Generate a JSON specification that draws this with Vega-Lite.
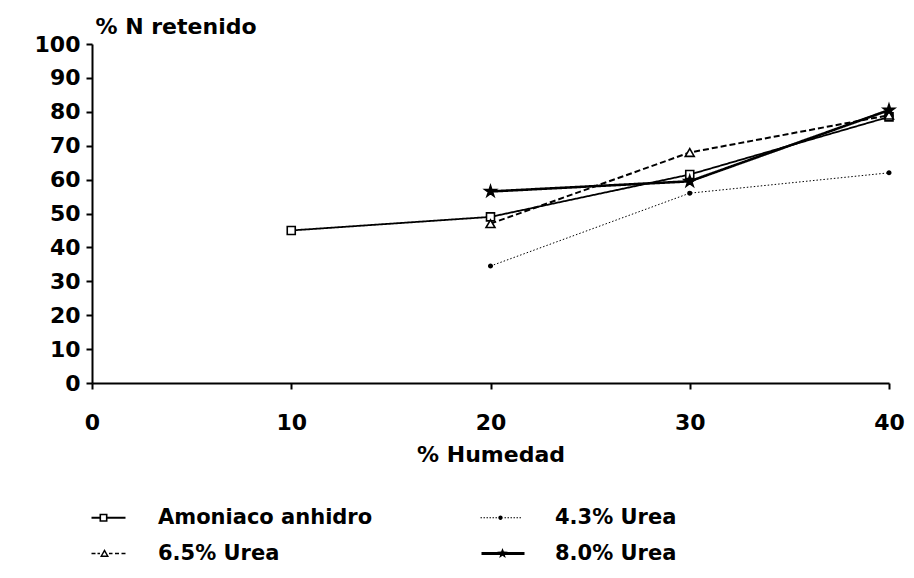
{
  "$schema": "https://vega.github.io/schema/vega-lite/v6.json",
  "width": 797,
  "height": 339,
  "autosize": {"type": "none"},
  "padding": {"left": 92, "top": 44, "right": 25, "bottom": 195},
  "background": "white",
  "config": {"view": {"stroke": null}, "font": "DejaVu Sans"},
  "data": {
    "values": [
      {"humedad": 10, "n": 45, "serie": "Amoniaco anhidro"},
      {"humedad": 20, "n": 49, "serie": "Amoniaco anhidro"},
      {"humedad": 30, "n": 61.5, "serie": "Amoniaco anhidro"},
      {"humedad": 40, "n": 78.5, "serie": "Amoniaco anhidro"},
      {"humedad": 20, "n": 34.5, "serie": "4.3% Urea"},
      {"humedad": 30, "n": 56, "serie": "4.3% Urea"},
      {"humedad": 40, "n": 62, "serie": "4.3% Urea"},
      {"humedad": 20, "n": 47, "serie": "6.5% Urea"},
      {"humedad": 30, "n": 68, "serie": "6.5% Urea"},
      {"humedad": 40, "n": 79, "serie": "6.5% Urea"},
      {"humedad": 20, "n": 56.5, "serie": "8.0% Urea"},
      {"humedad": 30, "n": 59.5, "serie": "8.0% Urea"},
      {"humedad": 40, "n": 80.5, "serie": "8.0% Urea"}
    ]
  },
  "encoding": {
    "x": {
      "field": "humedad", "type": "quantitative",
      "scale": {"domain": [0, 40], "nice": false, "zero": false},
      "axis": {
        "values": [0, 10, 20, 30, 40], "grid": false, "labelFlush": false,
        "title": "% Humedad", "titleFont": "DejaVu Sans", "titleFontSize": 22, "titleFontWeight": "bold", "titleColor": "black",
        "titleY": 78, "titleBaseline": "alphabetic",
        "labelFont": "DejaVu Sans", "labelFontSize": 22, "labelFontWeight": "bold", "labelColor": "black",
        "labelPadding": 23, "tickSize": 6, "tickWidth": 2, "tickColor": "black",
        "domainColor": "black", "domainWidth": 2
      }
    },
    "y": {
      "field": "n", "type": "quantitative",
      "scale": {"domain": [0, 100], "nice": false},
      "axis": {
        "values": [0, 10, 20, 30, 40, 50, 60, 70, 80, 90, 100], "grid": false, "labelFlush": false,
        "title": "% N retenido", "titleFont": "DejaVu Sans", "titleFontSize": 22, "titleFontWeight": "bold", "titleColor": "black",
        "titleAngle": 0, "titleX": 3, "titleY": -11, "titleAlign": "left", "titleBaseline": "alphabetic",
        "labelFont": "DejaVu Sans", "labelFontSize": 22, "labelFontWeight": "bold", "labelColor": "black",
        "labelPadding": 6, "tickSize": 6, "tickWidth": 2, "tickColor": "black",
        "domainColor": "black", "domainWidth": 2
      }
    }
  },
  "layer": [
    {
      "mark": {"type": "line", "color": "black"},
      "encoding": {
        "detail": {"field": "serie", "type": "nominal"},
        "strokeDash": {
          "field": "serie", "type": "nominal", "legend": null,
          "scale": {"type": "ordinal", "domain": ["Amoniaco anhidro", "4.3% Urea", "6.5% Urea", "8.0% Urea"], "range": [[1, 0], [1.5, 2], [6, 3], [1, 0]]}
        },
        "strokeWidth": {
          "field": "serie", "type": "nominal", "legend": null,
          "scale": {"type": "ordinal", "domain": ["Amoniaco anhidro", "4.3% Urea", "6.5% Urea", "8.0% Urea"], "range": [1.8, 1, 2, 2.6]}
        }
      }
    },
    {
      "mark": {"type": "point", "filled": true, "stroke": "black", "strokeWidth": 1.6, "opacity": 1},
      "encoding": {
        "shape": {
          "field": "serie", "type": "nominal", "legend": null,
          "scale": {"domain": ["Amoniaco anhidro", "4.3% Urea", "6.5% Urea", "8.0% Urea"],
                    "range": ["square", "circle", "triangle-up", "M0,-1L0.2245,-0.309L0.951,-0.309L0.363,0.118L0.588,0.809L0,0.382L-0.588,0.809L-0.363,0.118L-0.951,-0.309L-0.2245,-0.309Z"]}
        },
        "fill": {
          "field": "serie", "type": "nominal", "legend": null,
          "scale": {"domain": ["Amoniaco anhidro", "4.3% Urea", "6.5% Urea", "8.0% Urea"], "range": ["white", "black", "white", "black"]}
        },
        "size": {
          "field": "serie", "type": "nominal", "legend": null,
          "scale": {"type": "ordinal", "domain": ["Amoniaco anhidro", "4.3% Urea", "6.5% Urea", "8.0% Urea"], "range": [64, 12, 80, 140]}
        }
      }
    },
    {
      "mark": {"type": "point", "filled": true, "size": 4, "opacity": 0, "fill": "black", "strokeWidth": 0},
      "encoding": {
        "shape": {
          "field": "serie", "type": "nominal",
          "scale": {"domain": ["Amoniaco anhidro", "6.5% Urea", "4.3% Urea", "8.0% Urea"],
                    "range": [
                      "M0,-1H8V1H0Z M8,-4H16V4H8Z M9.6,-2.4V2.4H14.4V-2.4Z M16,-1H34V1H16Z",
                      "M0,-0.8H4V0.8H0Z M6,-0.8H8.5V0.8H6Z M13,-4.5L17.5,3.5L8.5,3.5Z M13,-1.6L10.9,2.1L15.1,2.1Z M17.5,-0.8H21V0.8H17.5Z M23.5,-0.8H27.5V0.8H23.5Z M30,-0.8H34V0.8H30Z",
                      "M-8,-0.5H-6.5V0.5H-8Z M-5,-0.5H-3.5V0.5H-5Z M-2,-0.5H-0.5V0.5H-2Z M1,-0.5H2.5V0.5H1Z M4,-0.5H5.5V0.5H4Z M7,-0.5H8.5V0.5H7Z M9.8,0A2.2,2.2 0 1,1 14.2,0A2.2,2.2 0 1,1 9.8,0Z M16,-0.5H17.5V0.5H16Z M19,-0.5H20.5V0.5H19Z M22,-0.5H23.5V0.5H22Z M25,-0.5H26.5V0.5H25Z M28,-0.5H29.5V0.5H28Z M31,-0.5H32.5V0.5H31Z",
                      "M-7,-1.5H36V1.5H-7Z M14,-5.5L15.37,-1.88L19.23,-1.7L16.21,0.72L17.24,4.45L14,2.32L10.76,4.45L11.79,0.72L8.77,-1.7L12.63,-1.88Z"
                    ]},
          "legend": {
            "title": null, "orient": "none", "legendX": -11, "legendY": 463,
            "columns": 2, "columnPadding": 105, "rowPadding": 14, "padding": 0,
            "symbolSize": 4, "symbolOpacity": 1, "symbolFillColor": "black", "symbolStrokeWidth": 0,
            "labelOffset": 56, "labelFont": "DejaVu Sans", "labelFontSize": 21, "labelFontWeight": "bold",
            "labelColor": "black", "labelLimit": 400
          }
        }
      }
    }
  ],
  "resolve": {"scale": {"shape": "independent"}}
}
